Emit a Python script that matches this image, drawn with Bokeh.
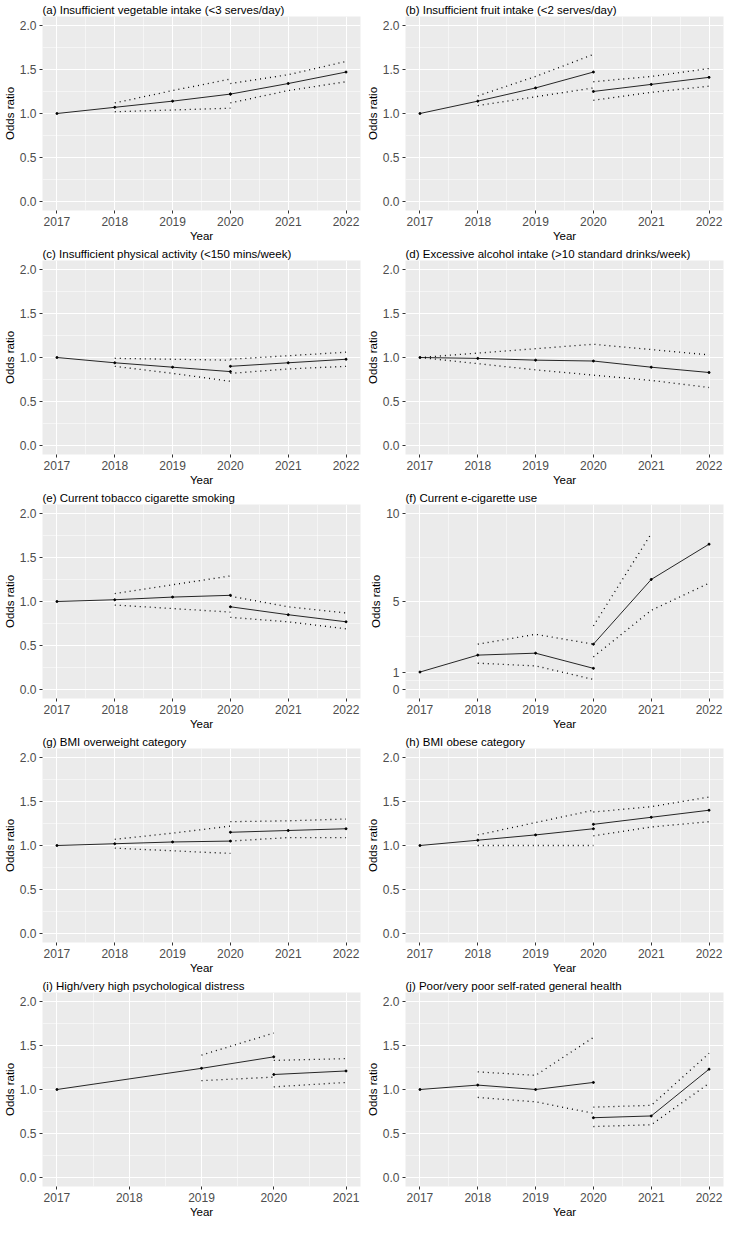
from bokeh.plotting import figure
from bokeh.layouts import gridplot
from bokeh.models import FixedTicker, Range1d, PrintfTickFormatter
from bokeh.embed import file_html
from bokeh.resources import INLINE

# ---------------- data ----------------
years_full = [2017, 2018, 2019, 2020, 2021, 2022]
years_i = [2017, 2018, 2019, 2020, 2021]

pre_years = [2017, 2018, 2019, 2020]
pre_ci_years = [2018, 2019, 2020]
post_years = [2020, 2021, 2022]

# (a) vegetables
a_or1 = [1.00, 1.07, 1.14, 1.22]
a_lo1 = [1.02, 1.04, 1.06]
a_hi1 = [1.12, 1.26, 1.39]
a_or2 = [1.22, 1.34, 1.47]
a_lo2 = [1.12, 1.26, 1.36]
a_hi2 = [1.34, 1.44, 1.59]

# (b) fruit
b_or1 = [1.00, 1.14, 1.29, 1.47]
b_lo1 = [1.09, 1.19, 1.29]
b_hi1 = [1.20, 1.42, 1.67]
b_or2 = [1.25, 1.33, 1.41]
b_lo2 = [1.15, 1.24, 1.31]
b_hi2 = [1.36, 1.42, 1.51]

# (c) physical activity
c_or1 = [1.00, 0.94, 0.89, 0.84]
c_lo1 = [0.90, 0.82, 0.73]
c_hi1 = [0.99, 0.98, 0.97]
c_or2 = [0.90, 0.94, 0.98]
c_lo2 = [0.82, 0.87, 0.90]
c_hi2 = [0.98, 1.02, 1.06]

# (d) alcohol (single series)
d_or = [1.00, 0.99, 0.97, 0.96, 0.89, 0.83]
d_lo = [1.00, 0.93, 0.86, 0.80, 0.74, 0.66]
d_hi = [1.00, 1.05, 1.10, 1.15, 1.09, 1.03]

# (e) tobacco
e_or1 = [1.00, 1.02, 1.05, 1.07]
e_lo1 = [0.96, 0.92, 0.88]
e_hi1 = [1.09, 1.19, 1.29]
e_or2 = [0.94, 0.85, 0.77]
e_lo2 = [0.82, 0.77, 0.69]
e_hi2 = [1.06, 0.94, 0.87]

# (f) e-cigarette
f_or1 = [1.00, 1.96, 2.07, 1.21]
f_lo1 = [1.50, 1.35, 0.58]
f_hi1 = [2.58, 3.14, 2.58]
f_or2 = [2.58, 6.25, 8.25]
f_lo2 = [1.86, 4.50, 6.04]
f_hi2_years = [2020, 2021]
f_hi2 = [3.62, 8.85]

# (g) overweight
g_or1 = [1.00, 1.02, 1.04, 1.05]
g_lo1 = [0.97, 0.94, 0.91]
g_hi1 = [1.07, 1.14, 1.22]
g_or2 = [1.15, 1.17, 1.19]
g_lo2 = [1.05, 1.09, 1.09]
g_hi2 = [1.27, 1.28, 1.30]

# (h) obese
h_or1 = [1.00, 1.06, 1.12, 1.19]
h_lo1 = [1.00, 1.00, 1.00]
h_hi1 = [1.12, 1.26, 1.40]
h_or2 = [1.24, 1.32, 1.40]
h_lo2 = [1.11, 1.21, 1.27]
h_hi2 = [1.38, 1.44, 1.55]

# (i) psychological distress
i_years1 = [2017, 2019, 2020]
i_ci_years1 = [2019, 2020]
i_or1 = [1.00, 1.24, 1.37]
i_lo1 = [1.10, 1.14]
i_hi1 = [1.39, 1.64]
i_years2 = [2020, 2021]
i_or2 = [1.17, 1.21]
i_lo2 = [1.03, 1.08]
i_hi2 = [1.33, 1.35]

# (j) self-rated health
j_or1 = [1.00, 1.05, 1.00, 1.08]
j_lo1 = [0.91, 0.86, 0.73]
j_hi1 = [1.20, 1.16, 1.59]
j_or2 = [0.68, 0.70, 1.23]
j_lo2 = [0.58, 0.60, 1.07]
j_hi2 = [0.80, 0.82, 1.41]

titles = [
    "(a) Insufficient vegetable intake (<3 serves/day)",
    "(b) Insufficient fruit intake (<2 serves/day)",
    "(c) Insufficient physical activity (<150 mins/week)",
    "(d) Excessive alcohol intake (>10 standard drinks/week)",
    "(e) Current tobacco cigarette smoking",
    "(f) Current e-cigarette use",
    "(g) BMI overweight category",
    "(h) BMI obese category",
    "(i) High/very high psychological distress",
    "(j) Poor/very poor self-rated general health",
]

or_ticks = [0.0, 0.5, 1.0, 1.5, 2.0]
or_minor = [0.25, 0.75, 1.25, 1.75]
f_ticks = [0, 1, 5, 10]
f_minor = [0.5, 3, 7.5]

# ---------------- styling ----------------
FONT = "Liberation Sans"
W, H = 363, 244


def make_panel(title, x_ticks, y_ticks, y_minor, y_lo, y_hi, fmt, series):
    span = x_ticks[-1] - x_ticks[0]
    pad = 0.05 * span
    p = figure(width=W, height=H, output_backend="svg", toolbar_location=None,
               x_range=Range1d(x_ticks[0] - pad, x_ticks[-1] + pad),
               y_range=Range1d(y_lo, y_hi),
               min_border_left=30, min_border_right=3,
               min_border_top=1, min_border_bottom=3)
    p.background_fill_color = "#EBEBEB"
    p.border_fill_color = "white"
    p.outline_line_color = None

    xt = FixedTicker(ticks=x_ticks,
                     minor_ticks=[x + 0.5 for x in x_ticks[:-1]])
    yt = FixedTicker(ticks=y_ticks, minor_ticks=y_minor)
    p.xaxis[0].ticker = xt
    p.xgrid[0].ticker = xt
    p.yaxis[0].ticker = yt
    p.ygrid[0].ticker = yt
    p.yaxis[0].formatter = PrintfTickFormatter(format=fmt)

    for g in (p.xgrid[0], p.ygrid[0]):
        g.grid_line_color = "white"
        g.grid_line_width = 1.1
        g.minor_grid_line_color = "white"
        g.minor_grid_line_width = 0.5

    p.title.text = title
    p.title.text_font = FONT
    p.title.text_font_size = "11.5px"
    p.title.text_font_style = "normal"
    p.title.text_color = "black"
    p.title.align = "left"
    p.title.offset = 0
    p.title.standoff = 2

    p.xaxis.axis_label = "Year"
    p.yaxis.axis_label = "Odds ratio"
    for ax in (p.xaxis[0], p.yaxis[0]):
        ax.axis_label_text_font = FONT
        ax.axis_label_text_font_size = "11.5px"
        ax.axis_label_text_font_style = "normal"
        ax.axis_label_text_color = "black"
        ax.axis_label_standoff = 1
        ax.major_label_text_font = FONT
        ax.major_label_text_font_size = "12px"
        ax.major_label_text_color = "#4D4D4D"
        ax.major_label_standoff = 2
        ax.major_tick_out = 3
        ax.major_tick_in = 0
        ax.major_tick_line_color = "#333333"
        ax.minor_tick_line_color = None
        ax.axis_line_color = None

    for kind, xs, ys in series:
        if kind == "or":
            p.line(xs, ys, line_color="#262626", line_width=1)
            p.scatter(xs, ys, size=2, color="black")
        else:
            p.line(xs, ys, line_color="black", line_width=1.3,
                   line_dash="1 4")
    return p


def two_seg(or1, lo1, hi1, or2, lo2, hi2):
    return [("or", pre_years, or1), ("ci", pre_ci_years, lo1), ("ci", pre_ci_years, hi1),
            ("or", post_years, or2), ("ci", post_years, lo2), ("ci", post_years, hi2)]


panels = []
panels.append(make_panel(titles[0], years_full, or_ticks, or_minor, -0.1, 2.1, "%.1f",
                         two_seg(a_or1, a_lo1, a_hi1, a_or2, a_lo2, a_hi2)))
panels.append(make_panel(titles[1], years_full, or_ticks, or_minor, -0.1, 2.1, "%.1f",
                         two_seg(b_or1, b_lo1, b_hi1, b_or2, b_lo2, b_hi2)))
panels.append(make_panel(titles[2], years_full, or_ticks, or_minor, -0.1, 2.1, "%.1f",
                         two_seg(c_or1, c_lo1, c_hi1, c_or2, c_lo2, c_hi2)))
panels.append(make_panel(titles[3], years_full, or_ticks, or_minor, -0.1, 2.1, "%.1f",
                         [("or", years_full, d_or), ("ci", years_full, d_lo),
                          ("ci", years_full, d_hi)]))
panels.append(make_panel(titles[4], years_full, or_ticks, or_minor, -0.1, 2.1, "%.1f",
                         two_seg(e_or1, e_lo1, e_hi1, e_or2, e_lo2, e_hi2)))
panels.append(make_panel(titles[5], years_full, f_ticks, f_minor, -0.5, 10.5, "%d",
                         [("or", pre_years, f_or1), ("ci", pre_ci_years, f_lo1),
                          ("ci", pre_ci_years, f_hi1),
                          ("or", post_years, f_or2), ("ci", post_years, f_lo2),
                          ("ci", f_hi2_years, f_hi2)]))
panels.append(make_panel(titles[6], years_full, or_ticks, or_minor, -0.1, 2.1, "%.1f",
                         two_seg(g_or1, g_lo1, g_hi1, g_or2, g_lo2, g_hi2)))
panels.append(make_panel(titles[7], years_full, or_ticks, or_minor, -0.1, 2.1, "%.1f",
                         two_seg(h_or1, h_lo1, h_hi1, h_or2, h_lo2, h_hi2)))
panels.append(make_panel(titles[8], years_i, or_ticks, or_minor, -0.1, 2.1, "%.1f",
                         [("or", i_years1, i_or1), ("ci", i_ci_years1, i_lo1),
                          ("ci", i_ci_years1, i_hi1),
                          ("or", i_years2, i_or2), ("ci", i_years2, i_lo2),
                          ("ci", i_years2, i_hi2)]))
panels.append(make_panel(titles[9], years_full, or_ticks, or_minor, -0.1, 2.1, "%.1f",
                         two_seg(j_or1, j_lo1, j_hi1, j_or2, j_lo2, j_hi2)))

rows = [panels[k:k + 2] for k in range(0, 10, 2)]
grid = gridplot(rows, toolbar_location=None)

open("out.html", "w").write(file_html(grid, INLINE))
